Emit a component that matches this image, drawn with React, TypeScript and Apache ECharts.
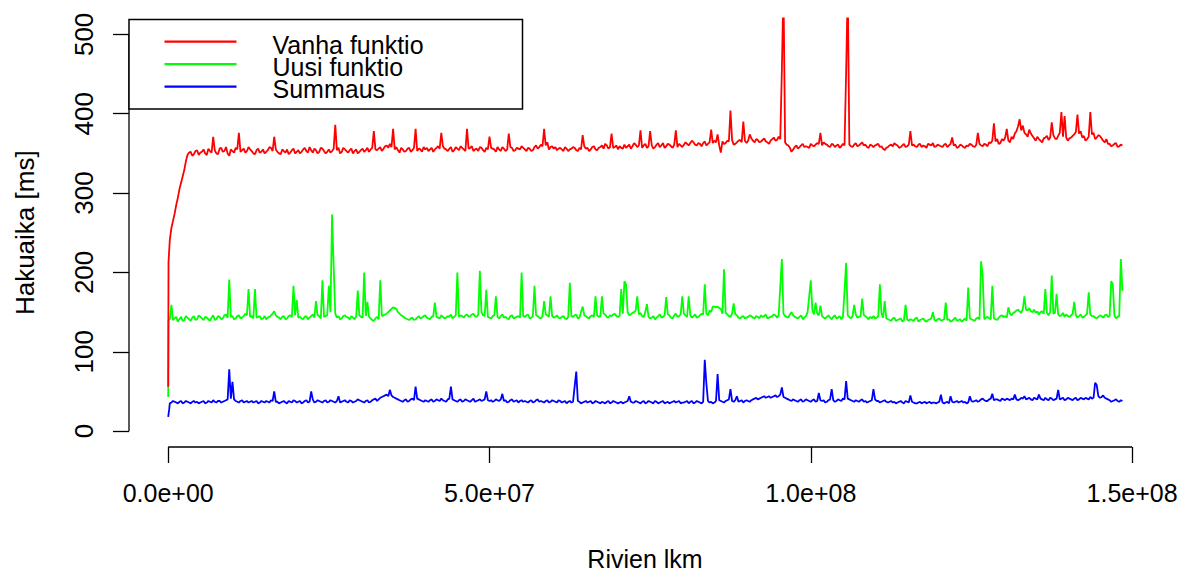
import React, { useEffect, useRef } from "react";
import * as echarts from "echarts";

// ---- data ----
const ROW_STEP = 250000; // rows between measurements
const FIRST_ROW = 250000;

const redStartRows = [0, 50000];
const redStartValues = [56, 213];
const greenStartRows = [0, 50000];
const greenStartValues = [43, 140];
const blueStartRows = [0, 150000];
const blueStartValues = [18, 27];

const vanhaFunktio = [
  241, 256, 265, 274, 285, 294, 305, 313, 321, 329, 340, 348, 351, 352, 347, 349, 353, 354, 348, 351,
  352, 355, 350, 348, 356, 353, 351, 371, 354, 350, 349, 356, 357, 352, 353, 358, 350, 347, 355, 353,
  351, 357, 355, 376, 352, 354, 356, 351, 353, 358, 355, 353, 350, 349, 354, 356, 351, 352, 355, 350,
  352, 354, 358, 357, 353, 371, 355, 352, 350, 349, 355, 353, 351, 355, 349, 351, 354, 356, 350, 352,
  354, 350, 352, 355, 357, 353, 351, 358, 354, 351, 356, 354, 350, 352, 357, 356, 353, 350, 352, 355,
  351, 353, 356, 386, 354, 357, 350, 352, 357, 355, 353, 351, 354, 356, 350, 353, 355, 350, 352, 354,
  356, 352, 354, 357, 352, 355, 357, 378, 355, 354, 356, 358, 353, 356, 359, 360, 357, 362, 358, 381,
  355, 358, 354, 351, 357, 355, 352, 353, 356, 357, 352, 354, 357, 381, 353, 356, 355, 352, 358, 355,
  357, 353, 355, 357, 352, 355, 357, 359, 356, 376, 359, 356, 355, 353, 356, 358, 352, 354, 358, 356,
  354, 359, 357, 355, 353, 381, 356, 357, 359, 353, 355, 356, 353, 358, 357, 354, 352, 357, 355, 371,
  357, 356, 355, 352, 358, 355, 353, 358, 356, 353, 355, 375, 358, 357, 353, 354, 357, 356, 355, 359,
  357, 355, 353, 357, 356, 353, 354, 358, 360, 356, 358, 361, 359, 381, 360, 364, 355, 358, 359, 356,
  358, 354, 356, 357, 355, 353, 358, 356, 353, 355, 356, 358, 357, 354, 353, 357, 355, 373, 359, 356,
  357, 353, 355, 358, 359, 355, 354, 357, 358, 360, 356, 362, 360, 356, 358, 375, 357, 358, 360, 355,
  359, 357, 356, 361, 357, 359, 361, 356, 359, 363, 361, 358, 360, 379, 357, 360, 362, 357, 359, 378,
  360, 356, 358, 361, 363, 358, 360, 363, 357, 359, 362, 361, 359, 357, 361, 379, 358, 362, 360, 358,
  361, 364, 362, 360, 363, 366, 364, 361, 360, 363, 362, 359, 363, 365, 360, 362, 364, 380, 363, 366,
  364, 374, 360, 351, 365, 362, 363, 366, 365, 404, 367, 361, 362, 364, 366, 367, 364, 390, 366, 363,
  366, 374, 369, 366, 364, 368, 367, 364, 365, 367, 369, 365, 364, 362, 366, 368, 370, 366, 367, 371,
  368, 455, 560, 364, 361, 360, 357, 352, 355, 358, 360, 356, 358, 360, 362, 358, 359, 358, 357, 362,
  360, 359, 361, 363, 362, 376, 360, 364, 362, 361, 359, 358, 362, 361, 358, 360, 361, 357, 359, 362,
  360, 452, 560, 361, 359, 358, 361, 363, 359, 360, 362, 364, 360, 361, 358, 357, 361, 360, 358, 360,
  361, 362, 358, 359, 356, 354, 357, 358, 360, 361, 359, 363, 361, 360, 357, 358, 360, 362, 358, 359,
  361, 378, 360, 361, 359, 358, 361, 362, 358, 360, 359, 357, 362, 361, 360, 363, 358, 359, 361, 360,
  359, 358, 361, 362, 358, 360, 362, 370, 360, 361, 357, 358, 361, 360, 358, 357, 360, 359, 362, 361,
  359, 358, 361, 376, 362, 360, 359, 362, 361, 359, 364, 363, 366, 388, 365, 368, 362, 363, 368, 366,
  370, 381, 366, 364, 371, 368, 375, 378, 384, 393, 379, 385, 376, 374, 371, 380, 375, 372, 369, 366,
  371, 368, 366, 364, 369, 370, 372, 367, 370, 389, 373, 369, 368, 372, 376, 402, 371, 397, 370, 366,
  369, 370, 372, 374, 377, 399, 375, 378, 370, 372, 366, 368, 371, 402, 374, 376, 368, 370, 373, 372,
  369, 366, 364, 368, 362, 362, 359, 360, 362, 363, 358, 359, 361, 360,
];

const uusiFunktio = [
  141, 159, 140, 142, 144, 138, 141, 144, 139, 140, 145, 143, 141, 139, 143, 145, 140, 141, 146, 144,
  142, 140, 144, 143, 141, 139, 143, 146, 140, 141, 145, 144, 141, 142, 146, 147, 143, 191, 144, 145,
  141, 142, 145, 146, 142, 143, 145, 148, 146, 179, 144, 145, 142, 179, 143, 144, 145, 141, 142, 145,
  141, 143, 144, 146, 148, 151, 146, 144, 143, 141, 144, 145, 141, 142, 145, 146, 144, 183, 146, 165,
  143, 144, 142, 141, 144, 145, 141, 143, 145, 147, 143, 164, 146, 145, 142, 190, 144, 145, 146, 183,
  150, 273, 207, 148, 143, 145, 141, 142, 145, 146, 144, 143, 141, 145, 143, 141, 144, 177, 146, 144,
  143, 200, 145, 163, 144, 142, 140, 139, 142, 144, 141, 190, 145, 146, 147, 148, 150, 152, 154, 156,
  155, 154, 150, 148, 146, 145, 143, 142, 141, 140, 142, 143, 140, 141, 143, 145, 142, 143, 145, 146,
  143, 142, 141, 144, 145, 162, 144, 143, 142, 146, 144, 142, 143, 145, 144, 147, 142, 144, 146, 200,
  144, 146, 145, 143, 146, 147, 144, 145, 147, 148, 145, 144, 147, 202, 150, 146, 145, 178, 144, 143,
  142, 145, 146, 170, 144, 142, 145, 147, 143, 144, 142, 141, 145, 146, 142, 143, 144, 145, 143, 200,
  145, 144, 146, 147, 142, 143, 145, 183, 146, 145, 143, 142, 145, 164, 147, 146, 144, 170, 145, 143,
  144, 146, 143, 142, 144, 145, 142, 141, 144, 187, 145, 144, 146, 147, 142, 143, 150, 157, 146, 145,
  143, 142, 145, 146, 144, 170, 146, 144, 145, 170, 148, 147, 144, 143, 146, 145, 147, 148, 145, 144,
  145, 179, 148, 189, 185, 150, 146, 147, 149, 150, 152, 170, 147, 149, 145, 144, 150, 160, 144, 142,
  143, 145, 141, 143, 145, 147, 143, 144, 146, 169, 147, 146, 143, 142, 146, 148, 144, 145, 147, 170,
  148, 146, 144, 170, 146, 143, 145, 147, 143, 144, 146, 148, 147, 185, 148, 146, 152, 150, 157, 157,
  156, 157, 155, 154, 148, 204, 149, 147, 145, 144, 148, 161, 147, 146, 143, 142, 144, 145, 142, 143,
  144, 146, 145, 143, 142, 145, 144, 142, 146, 144, 145, 147, 142, 143, 144, 145, 147, 146, 143, 146,
  182, 217, 148, 145, 144, 143, 147, 150, 146, 144, 143, 142, 144, 146, 141, 143, 145, 150, 170, 190,
  152, 147, 162, 148, 146, 158, 145, 143, 142, 144, 146, 143, 141, 144, 146, 142, 143, 145, 141, 144,
  177, 212, 146, 144, 142, 145, 159, 147, 143, 144, 145, 167, 146, 145, 143, 141, 144, 142, 145, 142,
  143, 145, 185, 148, 143, 164, 142, 141, 140, 139, 142, 143, 139, 140, 141, 142, 138, 140, 159, 141,
  139, 141, 140, 139, 142, 143, 138, 140, 141, 142, 139, 138, 140, 141, 142, 150, 140, 139, 141, 142,
  139, 140, 141, 162, 140, 141, 138, 139, 141, 143, 139, 140, 141, 138, 140, 142, 139, 181, 142, 141,
  140, 139, 142, 143, 141, 214, 196, 141, 143, 144, 142, 141, 183, 142, 141, 140, 143, 145, 146, 144,
  145, 143, 156, 148, 146, 149, 150, 152, 153, 151, 149, 154, 170, 153, 152, 155, 151, 150, 153, 149,
  151, 147, 150, 151, 148, 179, 149, 146, 150, 196, 148, 149, 173, 147, 145, 146, 149, 144, 147, 145,
  144, 146, 148, 163, 146, 143, 145, 147, 143, 144, 146, 148, 175, 147, 145, 145, 143, 142, 144, 146,
  145, 143, 146, 147, 144, 145, 189, 185, 146, 142, 144, 145, 217, 177,
];

const summaus = [
  35, 36, 38, 37, 36, 35, 37, 38, 35, 36, 38, 37, 36, 35, 37, 38, 36, 37, 35, 36,
  37, 38, 35, 36, 38, 37, 36, 39, 37, 36, 38, 38, 36, 37, 38, 39, 40, 78, 41, 62,
  40, 38, 37, 36, 38, 39, 36, 37, 38, 36, 37, 38, 36, 37, 38, 35, 36, 38, 37, 36,
  38, 37, 36, 39, 38, 50, 37, 37, 35, 36, 37, 38, 36, 35, 38, 37, 36, 39, 38, 36,
  37, 38, 35, 36, 38, 39, 36, 37, 50, 40, 36, 37, 39, 38, 37, 36, 38, 39, 36, 37,
  39, 38, 37, 36, 38, 44, 36, 37, 38, 39, 37, 36, 39, 38, 36, 37, 38, 40, 39, 38,
  37, 36, 38, 39, 36, 37, 39, 40, 41, 38, 40, 42, 43, 44, 45, 46, 44, 52, 45, 43,
  42, 41, 40, 39, 38, 37, 39, 40, 37, 38, 40, 41, 39, 56, 41, 40, 39, 38, 37, 39,
  38, 37, 39, 40, 37, 38, 40, 39, 38, 41, 39, 38, 37, 40, 41, 56, 40, 39, 38, 37,
  39, 40, 37, 38, 40, 39, 38, 37, 39, 41, 37, 38, 39, 40, 38, 39, 40, 50, 39, 38,
  39, 37, 38, 40, 39, 38, 40, 47, 38, 39, 36, 37, 39, 40, 37, 38, 39, 36, 38, 39,
  37, 38, 37, 36, 38, 39, 36, 37, 39, 40, 37, 38, 37, 36, 38, 39, 36, 37, 39, 38,
  37, 36, 39, 38, 36, 37, 38, 35, 37, 38, 36, 37, 56, 75, 38, 37, 35, 36, 37, 38,
  36, 37, 38, 35, 36, 38, 37, 36, 35, 37, 36, 35, 37, 38, 35, 36, 38, 37, 36, 35,
  36, 37, 35, 36, 37, 38, 44, 37, 36, 36, 38, 37, 36, 35, 37, 38, 35, 36, 38, 37,
  36, 35, 38, 37, 35, 36, 37, 38, 35, 36, 37, 35, 36, 37, 38, 36, 37, 38, 35, 36,
  36, 37, 38, 35, 37, 38, 35, 36, 38, 37, 36, 35, 37, 90, 60, 38, 36, 37, 35, 36,
  38, 72, 39, 38, 37, 36, 38, 39, 40, 53, 38, 37, 39, 44, 37, 38, 39, 36, 38, 39,
  38, 37, 39, 40, 41, 42, 40, 41, 42, 43, 44, 42, 43, 44, 42, 43, 44, 45, 43, 44,
  46, 55, 43, 42, 41, 40, 39, 38, 40, 39, 38, 37, 39, 40, 37, 38, 40, 39, 38, 37,
  39, 40, 37, 38, 48, 39, 38, 39, 36, 37, 39, 40, 53, 39, 37, 38, 40, 39, 38, 41,
  40, 63, 41, 40, 39, 38, 37, 39, 38, 37, 39, 40, 37, 38, 36, 37, 38, 39, 53, 40,
  38, 38, 36, 37, 38, 39, 37, 36, 37, 38, 36, 37, 35, 36, 37, 38, 36, 35, 38, 37,
  36, 45, 37, 36, 35, 35, 36, 37, 35, 36, 37, 35, 36, 37, 35, 36, 36, 35, 36, 37,
  46, 36, 35, 36, 37, 35, 44, 37, 36, 37, 38, 36, 37, 38, 36, 37, 35, 36, 44, 38,
  37, 38, 39, 37, 38, 40, 41, 39, 38, 38, 40, 41, 47, 39, 40, 40, 39, 38, 41, 40,
  39, 41, 40, 39, 41, 40, 46, 40, 39, 40, 42, 41, 44, 40, 41, 42, 40, 39, 42, 41,
  40, 46, 41, 40, 39, 42, 40, 39, 42, 41, 39, 40, 41, 52, 40, 41, 42, 39, 40, 42,
  41, 40, 39, 41, 42, 39, 40, 42, 41, 40, 42, 41, 40, 43, 41, 42, 61, 58, 44, 42,
  43, 45, 42, 41, 40, 39, 37, 38, 39, 40, 38, 37, 39, 38,
];

const xTicks = [0, 50000000, 100000000, 150000000];
const yTicks = [0, 100, 200, 300, 400, 500];
const seriesNames = ["Vanha funktio", "Uusi funktio", "Summaus"];
const seriesColors = ["#ff0000", "#00ff00", "#0000ff"];
const xTitle = "Rivien lkm";
const yTitle = "Hakuaika [ms]";

// ---- layout ----
const X_MIN = -6100000;
const X_MAX = 154500000;
const Y_MIN = -20;
const Y_MAX = 520;
const FONT = "'Liberation Sans', Arial, sans-serif";

function build(startRows: number[], startVals: number[], vals: number[]) {
  const out: number[][] = startRows.map((r, i) => [r, startVals[i]]);
  vals.forEach((v, i) => out.push([FIRST_ROW + i * ROW_STEP, v]));
  return out;
}

function sci(v: number) {
  if (v === 0) return "0.0e+00";
  const e = Math.floor(Math.log10(Math.abs(v)));
  const m = v / Math.pow(10, e);
  return m.toFixed(1) + "e+" + String(e).padStart(2, "0");
}

export default function App() {
  const ref = useRef<HTMLDivElement>(null);
  useEffect(() => {
    if (!ref.current) return;
    const chart = echarts.init(ref.current, undefined, { renderer: "svg" });
    const axisColor = "#000";
    const dataSets = [
      build(redStartRows, redStartValues, vanhaFunktio),
      build(greenStartRows, greenStartValues, uusiFunktio),
      build(blueStartRows, blueStartValues, summaus),
    ];
    const drawOrder = [1, 2, 0];
    const legendY = [41.7, 64.2, 86.7];
    const textY = [45, 67, 89];
    chart.setOption({
      animation: false,
      backgroundColor: "#ffffff",
      grid: {
        left: 129,
        right: 21,
        top: 18.5,
        bottom: 125,
        containLabel: false,
        outerBoundsMode: "none",
      },
      xAxis: {
        type: "value",
        min: X_MIN,
        max: X_MAX,
        name: xTitle,
        nameLocation: "middle",
        nameGap: 99,
        nameTextStyle: { fontSize: 25, fontFamily: FONT, color: "#000" },
        axisLine: { show: false, onZero: false },
        axisTick: {
          show: true,
          inside: false,
          length: 16,
          customValues: xTicks,
          lineStyle: { color: axisColor, width: 1.3 },
        },
        axisLabel: {
          customValues: xTicks,
          margin: 33,
          fontSize: 25,
          fontFamily: FONT,
          color: "#000",
          formatter: (v: number) => sci(v),
        },
        splitLine: { show: false },
      },
      yAxis: {
        type: "value",
        min: Y_MIN,
        max: Y_MAX,
        name: yTitle,
        nameLocation: "middle",
        nameGap: 91,
        nameTextStyle: { fontSize: 26, fontFamily: FONT, color: "#000" },
        axisLine: { show: false, onZero: false },
        axisTick: {
          show: true,
          inside: false,
          length: 16,
          customValues: yTicks,
          lineStyle: { color: axisColor, width: 1.3 },
        },
        axisLabel: {
          customValues: yTicks,
          rotate: 90,
          margin: 32,
          fontSize: 26,
          fontFamily: FONT,
          color: "#000",
        },
        splitLine: { show: false },
      },
      series: [
        ...drawOrder.map((k) => ({
          type: "line",
          name: seriesNames[k],
          data: dataSets[k],
          showSymbol: false,
          symbol: "none",
          lineStyle: { color: seriesColors[k], width: 1.8 },
          itemStyle: { color: seriesColors[k] },
          silent: true,
          z: 3,
        })),
        {
          type: "line",
          name: "x-axis",
          data: [
            [xTicks[0], Y_MIN],
            [xTicks[xTicks.length - 1], Y_MIN],
          ],
          clip: false,
          symbol: "none",
          silent: true,
          lineStyle: { color: axisColor, width: 1.3 },
          z: 2,
        },
        {
          type: "line",
          name: "y-axis",
          data: [
            [X_MIN, yTicks[0]],
            [X_MIN, yTicks[yTicks.length - 1]],
          ],
          clip: false,
          symbol: "none",
          silent: true,
          lineStyle: { color: axisColor, width: 1.3 },
          z: 2,
        },
      ],
      graphic: [
        {
          type: "rect",
          z: 100,
          shape: { x: 129, y: 19.5, width: 393.5, height: 89.5 },
          style: { fill: "#fff", stroke: "#000", lineWidth: 1.5 },
        },
        ...seriesNames.map((n, i) => ({
          type: "line",
          z: 101,
          shape: { x1: 164.5, y1: legendY[i], x2: 236.5, y2: legendY[i] },
          style: { stroke: seriesColors[i], lineWidth: 2.3 },
        })),
        ...seriesNames.map((n, i) => ({
          type: "text",
          z: 101,
          x: 272.5,
          y: textY[i],
          style: {
            text: n,
            fontSize: 25,
            lineHeight: 21,
            fontFamily: FONT,
            fill: "#000",
            textAlign: "left",
            verticalAlign: "middle",
          },
        })),
      ],
    });
    return () => chart.dispose();
  }, []);
  return (
    <div
      ref={ref}
      style={{
        position: "fixed",
        left: 0,
        top: 0,
        width: 1182,
        height: 572,
        background: "#fff",
      }}
    />
  );
}
